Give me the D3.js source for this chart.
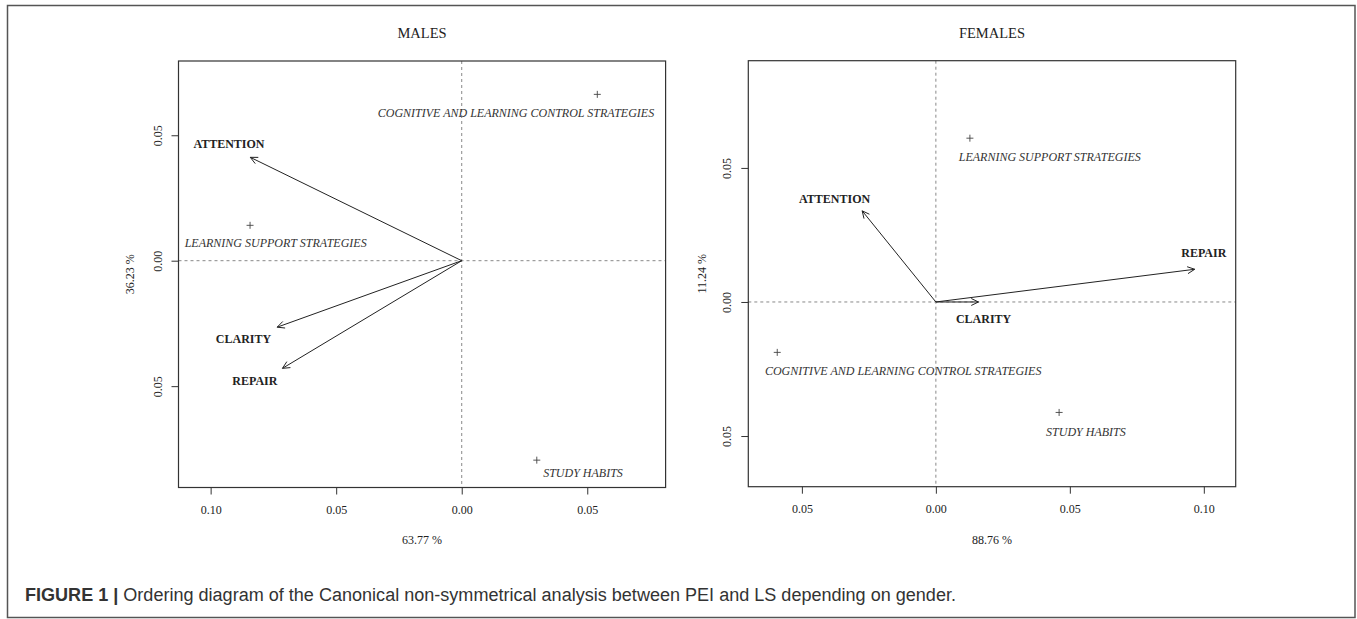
<!DOCTYPE html>
<html><head><meta charset="utf-8">
<script src="https://cdn.jsdelivr.net/npm/d3@7"></script>
<style>body{margin:0;background:#fff}</style>
</head><body><svg id="c" width="1357" height="619"></svg>
<script>
const panelTitles = ["MALES", "FEMALES"];
const xAxisLabels = ["63.77 %", "88.76 %"];
const yAxisLabels = ["36.23 %", "11.24 %"];
const xDomains = [[-0.1128, 0.0812], [-0.0700, 0.1119]];
const yDomains = [[-0.0904, 0.0796], [-0.0689, 0.0900]];
const xTickValues = [[-0.10, -0.05, 0, 0.05], [-0.05, 0, 0.05, 0.10]];
const yTickValues = [[-0.05, 0, 0.05], [-0.05, 0, 0.05]];

const variables = ["ATTENTION", "CLARITY", "REPAIR"];
const malesArrowX = [-0.0842, -0.0735, -0.0714];
const malesArrowY = [0.0412, -0.0265, -0.0429];
const malesArrowLabelX = [-0.0927, -0.0869, -0.0824];
const malesArrowLabelY = [0.0465, -0.0312, -0.0479];
const femalesArrowX = [-0.0275, 0.0159, 0.0966];
const femalesArrowY = [0.0340, 0.0000, 0.0122];
const femalesArrowLabelX = [-0.0378, 0.0178, 0.1000];
const femalesArrowLabelY = [0.0383, -0.0062, 0.0182];

const strategies = ["COGNITIVE AND LEARNING CONTROL STRATEGIES", "LEARNING SUPPORT STRATEGIES", "STUDY HABITS"];
const malesPointX = [0.0540, -0.0843, 0.0299];
const malesPointY = [0.0663, 0.0141, -0.0795];
const malesPointLabelX = [0.0216, -0.0741, 0.0483];
const malesPointLabelY = [0.0590, 0.0072, -0.0846];
const femalesPointX = [-0.0592, 0.0127, 0.0460];
const femalesPointY = [-0.0188, 0.0611, -0.0412];
const femalesPointLabelX = [-0.0122, 0.0425, 0.0560];
const femalesPointLabelY = [-0.0257, 0.0539, -0.0484];

const captionBold = "FIGURE 1 |";
const captionText = " Ordering diagram of the Canonical non-symmetrical analysis between PEI and LS depending on gender.";

const panels = [
  {title: panelTitles[0], xl: xAxisLabels[0], yl: yAxisLabels[0], xd: xDomains[0], yd: yDomains[0], xt: xTickValues[0], yt: yTickValues[0],
   ax: malesArrowX, ay: malesArrowY, alx: malesArrowLabelX, aly: malesArrowLabelY,
   px: malesPointX, py: malesPointY, plx: malesPointLabelX, ply: malesPointLabelY,
   box: {l: 178.5, r: 665.6, t: 61, b: 487.5}, ylOff: 49},
  {title: panelTitles[1], xl: xAxisLabels[1], yl: yAxisLabels[1], xd: xDomains[1], yd: yDomains[1], xt: xTickValues[1], yt: yTickValues[1],
   ax: femalesArrowX, ay: femalesArrowY, alx: femalesArrowLabelX, aly: femalesArrowLabelY,
   px: femalesPointX, py: femalesPointY, plx: femalesPointLabelX, ply: femalesPointLabelY,
   box: {l: 748.3, r: 1235.7, t: 60.7, b: 486.7}, ylOff: 46}
];

const svg = d3.select("#c");
const serif = "'Liberation Serif','Times New Roman',serif";
const ink = "#222";

svg.append("rect").attr("x", 7.5).attr("y", 5.5).attr("width", 1347.5).attr("height", 612)
  .attr("fill", "none").attr("stroke", "#555").attr("stroke-width", 1.5);

panels.forEach(p => {
  const b = p.box;
  const x = d3.scaleLinear().domain(p.xd).range([b.l, b.r]);
  const y = d3.scaleLinear().domain(p.yd).range([b.b, b.t]);
  const g = svg.append("g");
  const cx = (b.l + b.r) / 2, cy = (b.t + b.b) / 2;

  g.append("text").attr("x", cx).attr("y", 33).attr("text-anchor", "middle").attr("dominant-baseline", "central")
    .attr("font-family", serif).attr("font-size", 14.5).attr("fill", ink).text(p.title);

  g.append("line").attr("x1", b.l).attr("x2", b.r).attr("y1", y(0)).attr("y2", y(0))
    .attr("stroke", "#888").attr("stroke-dasharray", "3,3").attr("stroke-width", 1);
  g.append("line").attr("x1", x(0)).attr("x2", x(0)).attr("y1", b.t).attr("y2", b.b)
    .attr("stroke", "#888").attr("stroke-dasharray", "3,3").attr("stroke-width", 1);

  g.append("rect").attr("x", b.l).attr("y", b.t).attr("width", b.r - b.l).attr("height", b.b - b.t)
    .attr("fill", "none").attr("stroke", "#333").attr("stroke-width", 1.2);

  const xa = g.append("g").attr("transform", `translate(0,${b.b})`)
    .call(d3.axisBottom(x).tickValues(p.xt).tickFormat(d => Math.abs(d).toFixed(2)).tickSize(7).tickPadding(0));
  xa.select(".domain").remove();
  xa.selectAll("line").attr("stroke", "#333");
  xa.selectAll("text").attr("y", 22).attr("dy", null).attr("dominant-baseline", "central")
    .attr("font-family", serif).attr("font-size", 12).attr("fill", ink);

  const ya = g.append("g").attr("transform", `translate(${b.l},0)`)
    .call(d3.axisLeft(y).tickValues(p.yt).tickFormat(d => Math.abs(d).toFixed(2)).tickSize(7));
  ya.select(".domain").remove();
  ya.selectAll("line").attr("stroke", "#333");
  ya.selectAll("text").attr("x", null).attr("dy", null)
    .attr("transform", "translate(-21,0) rotate(-90)").attr("text-anchor", "middle").attr("dominant-baseline", "central")
    .attr("font-family", serif).attr("font-size", 12).attr("fill", ink);

  g.append("text").attr("x", cx).attr("y", 540).attr("text-anchor", "middle").attr("dominant-baseline", "central")
    .attr("font-family", serif).attr("font-size", 12).attr("fill", ink).text(p.xl);
  g.append("text").attr("transform", `translate(${b.l - p.ylOff},${cy}) rotate(-90)`).attr("text-anchor", "middle")
    .attr("dominant-baseline", "central").attr("font-family", serif).attr("font-size", 12).attr("fill", ink).text(p.yl);

  const x0 = x(0), y0 = y(0);
  variables.forEach((v, i) => {
    const tx = x(p.ax[i]), ty = y(p.ay[i]);
    g.append("line").attr("x1", x0).attr("y1", y0).attr("x2", tx).attr("y2", ty)
      .attr("stroke", "#222").attr("stroke-width", 1);
    const ang = Math.atan2(ty - y0, tx - x0);
    const L = 8, a = 0.45;
    const h1 = [tx - L * Math.cos(ang - a), ty - L * Math.sin(ang - a)];
    const h2 = [tx - L * Math.cos(ang + a), ty - L * Math.sin(ang + a)];
    g.append("path").attr("d", `M${h1[0]},${h1[1]}L${tx},${ty}L${h2[0]},${h2[1]}`)
      .attr("fill", "none").attr("stroke", "#222").attr("stroke-width", 1);
    g.append("text").attr("x", x(p.alx[i])).attr("y", y(p.aly[i])).attr("text-anchor", "middle")
      .attr("dominant-baseline", "central").attr("font-family", serif).attr("font-weight", "bold")
      .attr("font-size", 12).attr("fill", ink).text(v);
  });

  strategies.forEach((s, i) => {
    const qx = x(p.px[i]), qy = y(p.py[i]);
    g.append("path").attr("d", `M${qx - 3.5},${qy}H${qx + 3.5}M${qx},${qy - 3.5}V${qy + 3.5}`)
      .attr("stroke", "#444").attr("stroke-width", 0.9);
    g.append("text").attr("x", x(p.plx[i])).attr("y", y(p.ply[i])).attr("text-anchor", "middle")
      .attr("dominant-baseline", "central").attr("font-family", serif).attr("font-style", "italic")
      .attr("font-size", 12).attr("fill", "#333").text(s);
  });
});

const capStart = 25, capEnd = 957;
const cap = svg.append("text").attr("x", capStart).attr("y", 595).attr("dominant-baseline", "central")
  .attr("font-family", "'Liberation Sans',Arial,sans-serif").attr("font-size", 18).attr("fill", "#333");
cap.append("tspan").attr("font-weight", "bold").text(captionBold);
cap.append("tspan").text(captionText);
const w = cap.node().getComputedTextLength();
cap.attr("font-size", 18 * (capEnd - capStart) / w);
</script></body></html>
